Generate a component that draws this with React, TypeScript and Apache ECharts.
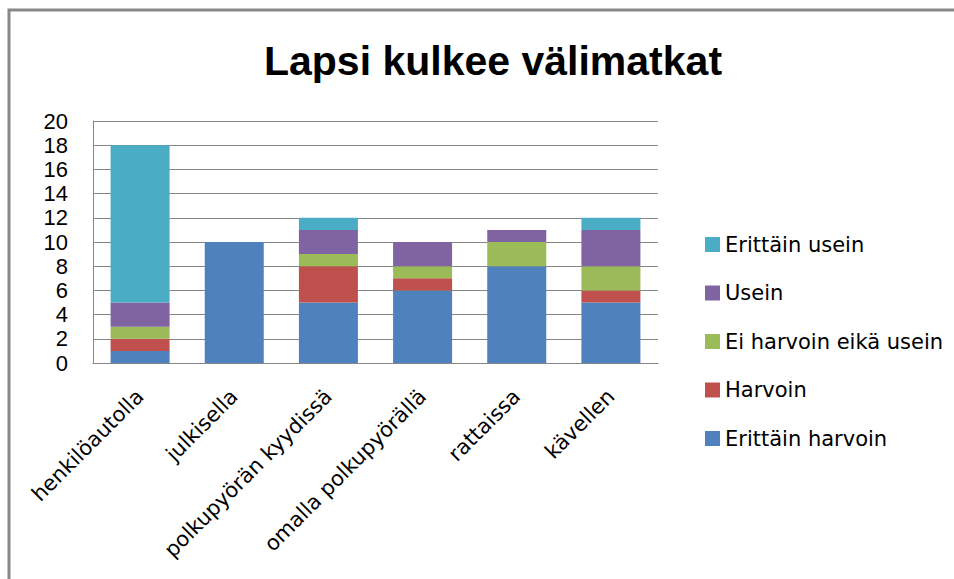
import React, { useEffect, useRef } from "react";
import * as echarts from "echarts";

const categories = [
  "henkilöautolla",
  "julkisella",
  "polkupyörän kyydissä",
  "omalla polkupyörällä",
  "rattaissa",
  "kävellen",
];
const seriesNames = [
  "Erittäin harvoin",
  "Harvoin",
  "Ei harvoin eikä usein",
  "Usein",
  "Erittäin usein",
];
const erittainHarvoin = [1, 10, 5, 6, 8, 5];
const harvoin = [1, 0, 3, 1, 0, 1];
const eiHarvoinEikaUsein = [1, 0, 1, 1, 2, 2];
const usein = [2, 0, 2, 2, 1, 3];
const erittainUsein = [13, 0, 1, 0, 0, 1];
const seriesValues = [erittainHarvoin, harvoin, eiHarvoinEikaUsein, usein, erittainUsein];
const colors = ["#4F81BD", "#C0504D", "#9BBB59", "#8064A2", "#4BACC6"];
const titleText = "Lapsi kulkee välimatkat";

export default function App() {
  const ref = useRef<HTMLDivElement>(null);
  useEffect(() => {
    if (!ref.current) return;
    const chart = echarts.init(ref.current, null, { renderer: "svg" });
    const font = "Liberation Sans";
    const wide = "DejaVu Sans";
    chart.setOption({
      animation: false,
      backgroundColor: "#ffffff",
      textStyle: { fontFamily: font },
      title: {
        text: titleText,
        left: 488,
        textAlign: "center",
        top: 35,
        textStyle: { fontFamily: font, fontSize: 41, fontWeight: "bold", color: "#000" },
      },
      graphic: [
        {
          type: "rect",
          shape: { x: 9, y: 10, width: 1000, height: 1000 },
          style: { fill: "none", stroke: "#878787", lineWidth: 3 },
          silent: true,
        },
      ],
      legend: {
        orient: "vertical",
        left: 700,
        top: 229,
        itemWidth: 15,
        itemHeight: 15,
        itemGap: 27.5,
        icon: "rect",
        data: seriesNames.slice().reverse(),
        textStyle: { fontFamily: wide, fontSize: 21, color: "#000" },
      },
      grid: { left: 93, right: 296, top: 121, bottom: 216, containLabel: false },
      xAxis: {
        type: "category",
        data: categories,
        axisLine: { show: true, lineStyle: { color: "#868686", width: 1 } },
        axisTick: { show: false },
        axisLabel: {
          rotate: 45,
          interval: 0,
          margin: 30,
          fontFamily: wide,
          fontSize: 21,
          color: "#000",
        },
      },
      yAxis: {
        type: "value",
        min: 0,
        max: 20,
        interval: 2,
        axisLine: { show: true, lineStyle: { color: "#868686", width: 1 } },
        axisTick: { show: false },
        axisLabel: { fontFamily: font, fontSize: 22, color: "#000", margin: 25 },
        splitLine: { show: true, lineStyle: { color: "#868686", width: 1 } },
      },
      series: seriesNames.map((name, i) => ({
        name,
        type: "bar",
        stack: "total",
        barWidth: 59,
        data: seriesValues[i],
        itemStyle: { color: colors[i] },
      })),
    });
    return () => chart.dispose();
  }, []);
  return (
    <div
      ref={ref}
      style={{ position: "fixed", left: 0, top: 0, width: 954, height: 579 }}
    />
  );
}
